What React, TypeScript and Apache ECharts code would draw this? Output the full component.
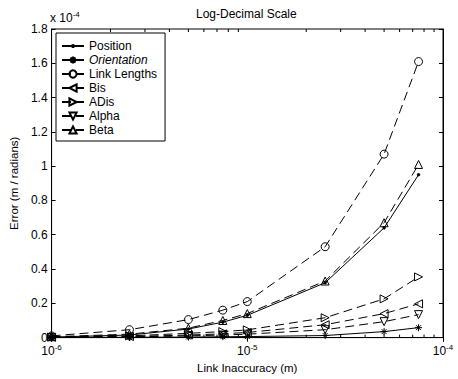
import React, { useEffect, useRef } from "react";
import * as echarts from "echarts";

// Link inaccuracy (m), log axis
const xValues = [1e-6, 2.5e-6, 5e-6, 7.5e-6, 1e-5, 2.5e-5, 5e-5, 7.5e-5];
// Error values in units of 1e-4 (m / radians)
const position = [0.003, 0.015, 0.05, 0.09, 0.13, 0.32, 0.64, 0.95];
const orientation = [0.001, 0.002, 0.003, 0.005, 0.006, 0.012, 0.035, 0.058];
const linkLengths = [0.01, 0.046, 0.105, 0.16, 0.21, 0.53, 1.07, 1.61];
const bis = [0.002, 0.006, 0.015, 0.022, 0.03, 0.075, 0.14, 0.197];
const aDis = [0.003, 0.01, 0.025, 0.035, 0.045, 0.116, 0.226, 0.354];
const alpha = [0.001, 0.004, 0.01, 0.015, 0.02, 0.046, 0.093, 0.134];
const beta = [0.005, 0.02, 0.055, 0.1, 0.14, 0.33, 0.67, 1.01];

const seriesNames = ["Position", "Orientation", "Link Lengths", "Bis", "ADis", "Alpha", "Beta"];
const minorTickValues = [
  2e-6, 3e-6, 4e-6, 5e-6, 6e-6, 7e-6, 8e-6, 9e-6,
  2e-5, 3e-5, 4e-5, 5e-5, 6e-5, 7e-5, 8e-5, 9e-5,
];

const FONT = "'Liberation Sans', Arial, Helvetica, sans-serif";
const ASTERISK = "path://M0,5L10,5M5,0L5,10M1.5,1.5L8.5,8.5M8.5,1.5L1.5,8.5";
// small dot inside a 10x10 box so it stays small when scaled
const DOT = "path://M0,0M10,10M5,3.6A1.4,1.4 0 1 1 5,6.4A1.4,1.4 0 1 1 5,3.6Z";
const DASH = [9, 5];

function mkSeries(
  name: string,
  values: number[],
  symbol: string,
  symbolSize: number,
  rotate: number,
  dashed: boolean,
  filled: boolean
) {
  return {
    name,
    type: "line",
    xAxisIndex: 0,
    yAxisIndex: 0,
    data: xValues.map((x, i) => [x, values[i]]),
    symbol,
    symbolSize,
    symbolRotate: rotate,
    showAllSymbol: true,
    lineStyle: { color: "#000", width: 1, type: dashed ? DASH : "solid" },
    itemStyle: {
      color: filled ? "#000" : "rgba(0,0,0,0)",
      borderColor: "#000",
      borderWidth: 1,
    },
    emphasis: { disabled: true },
    z: 3,
  };
}

const tickLabel = (v: number) => {
  const e = Math.round(Math.log10(v));
  return `{b|10}{s|${e}}`;
};
const tickRich = {
  b: { fontSize: 12, fontFamily: FONT, color: "#000" },
  s: { fontSize: 8, fontFamily: FONT, color: "#000", padding: [0, 0, 7, 0] },
};

export default function App() {
  const ref = useRef<HTMLDivElement>(null);
  useEffect(() => {
    if (!ref.current) return;
    const chart = echarts.init(ref.current, undefined, { renderer: "svg" });
    const axisLine = { show: true, lineStyle: { color: "#000", width: 1 } };
    const option: any = {
      animation: false,
      backgroundColor: "#fff",
      textStyle: { fontFamily: FONT, color: "#000" },
      title: {
        text: "Log-Decimal Scale",
        left: 196,
        top: 8,
        padding: 0,
        textStyle: { fontFamily: FONT, fontSize: 12, fontWeight: "normal", color: "#000" },
      },
      grid: {
        left: 48,
        right: 15,
        top: 29,
        bottom: 40,
        show: true,
        borderColor: "#000",
        borderWidth: 1,
        backgroundColor: "#fff",
      },
      legend: {
        data: seriesNames,
        orient: "vertical",
        left: 56,
        top: 33,
        padding: [7, 8, 5, 5],
        itemGap: 2,
        itemWidth: 22,
        itemHeight: 9,
        borderColor: "#000",
        borderWidth: 1,
        backgroundColor: "#fff",
        selectedMode: false,
        formatter: (n: string) => (n === "Orientation" ? `{i|${n}}` : n),
        textStyle: {
          fontFamily: FONT,
          fontSize: 12,
          color: "#000",
          rich: { i: { fontStyle: "italic", fontFamily: FONT, fontSize: 12, color: "#000" } },
        },
      },
      xAxis: [
        {
          type: "log",
          logBase: 10,
          min: 1e-6,
          max: 1e-4,
          position: "bottom",
          axisLine,
          axisTick: { show: true, inside: true, length: 4, lineStyle: { color: "#000" } },
          splitLine: { show: false },
          axisLabel: { formatter: tickLabel, rich: tickRich, margin: 6, color: "#000" },
          name: "Link Inaccuracy (m)",
          nameLocation: "middle",
          nameGap: 24,
          nameTextStyle: { fontFamily: FONT, fontSize: 11.5, color: "#000" },
        },
        {
          type: "log",
          logBase: 10,
          min: 1e-6,
          max: 1e-4,
          position: "top",
          axisLine,
          axisTick: { show: true, inside: true, length: 4, lineStyle: { color: "#000" } },
          splitLine: { show: false },
          axisLabel: { show: false },
        },
      ],
      yAxis: [
        {
          type: "value",
          min: 0,
          max: 1.8,
          interval: 0.2,
          position: "left",
          axisLine,
          axisTick: { show: true, inside: true, length: 4, lineStyle: { color: "#000" } },
          splitLine: { show: false },
          axisLabel: { fontFamily: FONT, fontSize: 12, color: "#000", margin: 4 },
          name: "Error (m / radians)",
          nameLocation: "middle",
          nameGap: 28,
          nameTextStyle: { fontFamily: FONT, fontSize: 11.5, color: "#000" },
        },
        {
          type: "value",
          min: 0,
          max: 1.8,
          interval: 0.2,
          position: "right",
          axisLine,
          axisTick: { show: true, inside: true, length: 4, lineStyle: { color: "#000" } },
          splitLine: { show: false },
          axisLabel: { show: false },
        },
      ],
      graphic: [
        {
          type: "text",
          left: 50,
          top: 10,
          style: {
            text: "{b|x 10}{s|-4}",
            rich: {
              b: { fontSize: 12, fontFamily: FONT, fill: "#000", color: "#000" },
              s: { fontSize: 8, fontFamily: FONT, fill: "#000", color: "#000", padding: [0, 0, 7, 0] },
            },
          },
        },
      ],
      series: [
        mkSeries("Position", position, DOT, 9, 0, false, true),
        mkSeries("Orientation", orientation, ASTERISK, 7, 0, false, true),
        mkSeries("Link Lengths", linkLengths, "circle", 8, 0, true, false),
        mkSeries("Bis", bis, "triangle", 8, 90, true, false),
        mkSeries("ADis", aDis, "triangle", 8, -90, true, false),
        mkSeries("Alpha", alpha, "triangle", 8, 180, true, false),
        mkSeries("Beta", beta, "triangle", 8, 0, true, false),
        {
          name: "minorTicks",
          type: "custom",
          xAxisIndex: 0,
          yAxisIndex: 0,
          silent: true,
          z: 4,
          data: minorTickValues.map((v) => [v, 0]),
          renderItem: (params: any, api: any) => {
            const x = api.coord([api.value(0), 0])[0];
            const cs = params.coordSys;
            const top = cs.y;
            const bottom = cs.y + cs.height;
            const st = { stroke: "#000", lineWidth: 1 };
            return {
              type: "group",
              children: [
                { type: "line", shape: { x1: x, y1: bottom, x2: x, y2: bottom - 3 }, style: st },
                { type: "line", shape: { x1: x, y1: top, x2: x, y2: top + 3 }, style: st },
              ],
            };
          },
        },
      ],
    };
    chart.setOption(option);
    return () => chart.dispose();
  }, []);
  return (
    <div
      ref={ref}
      style={{ position: "absolute", left: 0, top: 0, width: 458, height: 379 }}
    />
  );
}
